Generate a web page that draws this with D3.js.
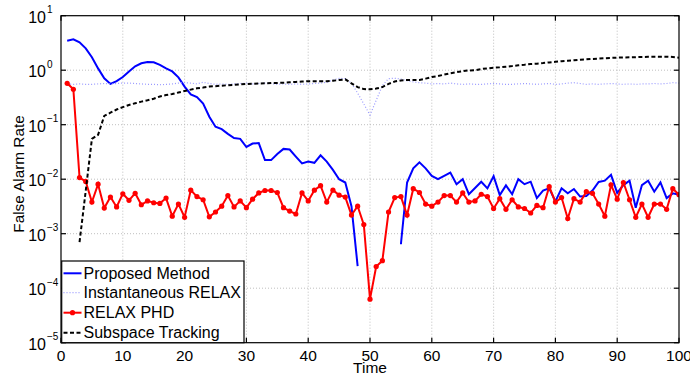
<!DOCTYPE html>
<html><head><meta charset="utf-8">
<script src="https://cdn.jsdelivr.net/npm/d3@7"></script>
<style>body{margin:0;background:#fff}text{font-family:"Liberation Sans",Arial,sans-serif}</style>
</head><body>
<svg id="c" width="690" height="379"></svg>
<script>
const time = d3.range(1, 101);
const proposed = [3.47,3.69,3.25,2.52,1.73,1.08,0.71,0.56,0.63,0.75,
0.95,1.18,1.34,1.41,1.40,1.25,1.08,0.95,0.74,0.50,
0.36,0.32,0.245,0.14,0.092,0.083,0.068,0.057,0.055,0.039,
0.045,0.046,0.0224,0.0224,0.029,0.036,0.035,0.026,0.0195,0.021,
0.020,0.0275,0.021,0.0148,0.010,0.0087,0.0032,0.000255,null,null,
null,null,null,null,0.00064,0.0087,0.0158,0.0204,0.0158,0.0115,
0.0100,0.0115,0.0132,0.0081,0.0100,0.0053,0.0069,0.0090,0.0068,0.0114,
0.0051,0.0077,0.0053,0.0100,0.0081,0.0090,0.0045,0.0062,0.0068,0.0039,
0.0068,0.0055,0.0066,0.0048,0.0049,0.0062,0.0089,0.0094,0.0120,0.0056,
0.0078,0.0094,0.0030,0.0078,0.0094,0.0059,0.0087,0.0045,0.0055,0.0052];
const instRelax = [0.56,0.55,0.56,0.55,0.55,0.56,0.57,0.56,0.57,0.58,
0.58,0.57,0.56,0.55,0.55,0.54,0.55,0.56,0.58,0.59,
0.58,0.56,0.60,0.57,0.55,0.56,0.55,0.56,0.57,0.58,
0.56,0.57,0.58,0.57,0.55,0.56,0.55,0.56,0.55,0.56,
0.57,0.58,0.60,0.66,0.71,0.70,0.58,0.38,0.24,0.15,
0.28,0.52,0.70,0.71,0.69,0.64,0.61,0.59,0.58,0.56,
0.57,0.56,0.58,0.56,0.55,0.56,0.55,0.55,0.56,0.57,
0.56,0.55,0.55,0.56,0.57,0.56,0.55,0.56,0.57,0.55,
0.56,0.58,0.59,0.57,0.55,0.56,0.55,0.56,0.57,0.56,
0.55,0.56,0.55,0.56,0.56,0.57,0.56,0.57,0.59,0.58];
const relaxPhd = [0.575,0.447,0.0107,0.0091,0.0038,0.0081,0.00295,0.0047,0.0031,0.0054,
0.0041,0.0055,0.0034,0.0040,0.0037,0.0036,0.0045,0.0021,0.0035,0.0020,
0.0063,0.0048,0.0042,0.00204,0.0025,0.0032,0.0050,0.0031,0.0040,0.0030,
0.0043,0.0056,0.0062,0.0062,0.0057,0.0030,0.0026,0.0023,0.0056,0.0040,
0.0063,0.0076,0.0038,0.0063,0.0051,0.0047,0.0022,0.0032,0.00147,0.000063,
0.00025,0.00032,0.0025,0.0046,0.0048,0.0022,0.0067,0.0057,0.0035,0.0032,
0.0038,0.0050,0.0050,0.0038,0.0056,0.0038,0.0040,0.0053,0.0048,0.0029,
0.0044,0.0028,0.0042,0.0031,0.0029,0.0024,0.0033,0.0030,0.0073,0.0038,
0.0046,0.0019,0.0044,0.0038,0.0059,0.0055,0.0035,0.0021,0.0079,0.0043,
0.0087,0.0042,0.0020,0.0035,0.0020,0.0035,0.0035,0.0028,0.0067,0.0052];
const subspace = [null,null,0.0007,0.0061,0.055,0.065,0.145,0.166,0.19,0.21,
0.23,0.247,0.265,0.28,0.30,0.33,0.35,0.365,0.39,0.415,
0.44,0.465,0.48,0.50,0.51,0.52,0.53,0.54,0.55,0.56,
0.565,0.57,0.575,0.58,0.585,0.59,0.60,0.61,0.62,0.63,
0.63,0.63,0.63,0.64,0.66,0.68,0.575,0.49,0.45,0.447,
0.46,0.49,0.56,0.62,0.65,0.66,0.66,0.66,0.70,0.75,
0.78,0.83,0.88,0.92,0.96,0.99,1.0,1.05,1.08,1.11,
1.13,1.16,1.19,1.23,1.26,1.30,1.32,1.35,1.39,1.43,
1.46,1.49,1.52,1.56,1.58,1.61,1.63,1.66,1.68,1.70,
1.71,1.72,1.73,1.75,1.76,1.77,1.77,1.77,1.75,1.70];
const xTicks = [0,10,20,30,40,50,60,70,80,90,100];
const yExps = [1,0,-1,-2,-3,-4,-5];
const legendLabels = ["Proposed Method","Instantaneous RELAX","RELAX PHD","Subspace Tracking"];

const L=61, R=679, T=15.7, B=342.7;
const svg = d3.select("#c");
const x = d3.scaleLinear().domain([0,100]).range([L,R]);
const y = d3.scaleLog().domain([1e-5,10]).range([B,T]);

// grid
const g = svg.append("g");
xTicks.slice(1,-1).forEach(t=>g.append("line").attr("x1",x(t)).attr("x2",x(t)).attr("y1",T).attr("y2",B)
  .attr("stroke","#b8b8b8").attr("stroke-width",0.9).attr("stroke-dasharray","1,2"));
yExps.slice(1,-1).forEach(e=>g.append("line").attr("x1",L).attr("x2",R).attr("y1",y(Math.pow(10,e))).attr("y2",y(Math.pow(10,e)))
  .attr("stroke","#b8b8b8").attr("stroke-width",0.9).attr("stroke-dasharray","1,2"));

const pts = arr => time.map((t,i)=>({t, v:arr[i]}));
const line = d3.line().defined(d=>d.v!=null).x(d=>x(d.t)).y(d=>y(d.v));

const clip = svg.append("clipPath").attr("id","cp").append("rect").attr("x",L).attr("y",T).attr("width",R-L).attr("height",B-T);
const dg = svg.append("g").attr("clip-path","url(#cp)");
dg.append("path").datum(pts(proposed)).attr("d",line).attr("fill","none").attr("stroke","#0000ff").attr("stroke-width",2);
dg.append("path").datum(pts(instRelax)).attr("d",line).attr("fill","none").attr("stroke","#9a9aff").attr("stroke-width",1.2).attr("stroke-dasharray","1,2");
dg.append("path").datum(pts(relaxPhd)).attr("d",line).attr("fill","none").attr("stroke","#ff0000").attr("stroke-width",2);
dg.selectAll("circle.r").data(pts(relaxPhd)).join("circle").attr("class","r").attr("cx",d=>x(d.t)).attr("cy",d=>y(d.v)).attr("r",2.6).attr("fill","#ff0000");
dg.append("path").datum(pts(subspace)).attr("d",line).attr("fill","none").attr("stroke","#000").attr("stroke-width",2).attr("stroke-dasharray","4,2.5");

// axes box and ticks
const ax = svg.append("g").attr("stroke","#000").attr("stroke-width",1.2);
ax.append("rect").attr("x",L).attr("y",T).attr("width",R-L).attr("height",B-T).attr("fill","none");
xTicks.forEach(t=>{
  ax.append("line").attr("x1",x(t)).attr("x2",x(t)).attr("y1",B).attr("y2",B-5);
  ax.append("line").attr("x1",x(t)).attr("x2",x(t)).attr("y1",T).attr("y2",T+5);
});
yExps.forEach(e=>{
  const yy=y(Math.pow(10,e));
  ax.append("line").attr("x1",L).attr("x2",L+5).attr("y1",yy).attr("y2",yy);
  ax.append("line").attr("x1",R).attr("x2",R-5).attr("y1",yy).attr("y2",yy);
});
xTicks.forEach(t=>svg.append("text").attr("x",x(t)).attr("y",360.7).attr("text-anchor","middle").attr("font-size",15.5).text(t));
yExps.forEach(e=>{
  const yy=y(Math.pow(10,e));
  svg.append("text").attr("x",46).attr("y",yy+6.8).attr("text-anchor","end").attr("font-size",16).text("10");
  svg.append("text").attr("x",47).attr("y",yy-2.5).attr("text-anchor","start").attr("font-size",10).text(e<0?"\u2212"+(-e):String(e));
});
svg.append("text").attr("x",370).attr("y",373.3).attr("text-anchor","middle").attr("font-size",15.5).text("Time");
svg.append("text").attr("transform","translate(23.5,174) rotate(-90)").attr("text-anchor","middle").attr("font-size",15.3).text("False Alarm Rate");

// legend
const lg = svg.append("g");
lg.append("rect").attr("x",61.7).attr("y",261).attr("width",182.3).attr("height",81.7).attr("fill","#fff").attr("stroke","#000").attr("stroke-width",1.2);
const rows=[273.3,292.7,312.7,332.7];
const styles=[{c:"#0000ff",w:2,d:null},{c:"#9a9aff",w:1.2,d:"1,2"},{c:"#ff0000",w:2,d:null,m:true},{c:"#000",w:2,d:"4,2.5"}];
legendLabels.forEach((lab,i)=>{
  const s=styles[i];
  const ln=lg.append("line").attr("x1",63.5).attr("x2",81.5).attr("y1",rows[i]).attr("y2",rows[i]).attr("stroke",s.c).attr("stroke-width",s.w);
  if(s.d) ln.attr("stroke-dasharray",s.d);
  if(s.m) lg.append("circle").attr("cx",72.5).attr("cy",rows[i]).attr("r",2.6).attr("fill",s.c);
  lg.append("text").attr("x",83.5).attr("y",rows[i]+5.7).attr("font-size",16).text(lab);
});
</script>
</body></html>
